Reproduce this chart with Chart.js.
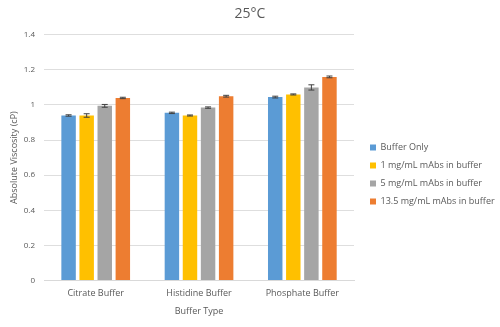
<!DOCTYPE html>
<html>
<head>
<meta charset="utf-8">
<script src="https://cdn.jsdelivr.net/npm/chart.js@4"></script>
<style>
  html, body { margin: 0; padding: 0; background: #fff; }
  #wrap { width: 500px; height: 327px; }
</style>
</head>
<body>
<div id="wrap"><canvas id="visc"></canvas></div>
<script>
// buffer types on the x axis
const buffers = ["Citrate Buffer", "Histidine Buffer", "Phosphate Buffer"];

// series names
const seriesNames = ["Buffer Only", "1 mg/mL mAbs in buffer", "5 mg/mL mAbs in buffer", "13.5 mg/mL mAbs in buffer"];

// absolute viscosity (cP), one array per series
const bufferOnly = [0.94, 0.955, 1.045];
const mAbs1 = [0.94, 0.94, 1.06];
const mAbs5 = [0.995, 0.985, 1.10];
const mAbs135 = [1.04, 1.05, 1.16];

// error bar half widths
const errBufferOnly = [0.004, 0.004, 0.005];
const errMAbs1 = [0.01, 0.003, 0.003];
const errMAbs5 = [0.008, 0.004, 0.015];
const errMAbs135 = [0.004, 0.005, 0.005];

const yTicks = [0, 0.2, 0.4, 0.6, 0.8, 1, 1.2, 1.4];

const colors = ["#5B9BD5", "#FFC000", "#A5A5A5", "#ED7D31"];
const values = [bufferOnly, mAbs1, mAbs5, mAbs135];
const errors = [errBufferOnly, errMAbs1, errMAbs5, errMAbs135];

const font = "'Open Sans', 'DejaVu Sans', sans-serif";
const textColor = "#595959";

// draws small error bars on top of every bar
const errorBars = {
   id: "errorBars",
   afterDatasetsDraw(chart) {
      const ctx = chart.ctx;
      const y = chart.scales.y;
      ctx.save();
      ctx.strokeStyle = "#404040";
      ctx.lineWidth = 1;
      chart.data.datasets.forEach((ds, i) => {
         const meta = chart.getDatasetMeta(i);
         meta.data.forEach((bar, j) => {
            const v = ds.data[j];
            const e = errors[i][j];
            const top = y.getPixelForValue(v + e);
            const bot = y.getPixelForValue(v - e);
            const x = bar.x;
            ctx.beginPath();
            ctx.moveTo(x, top); ctx.lineTo(x, bot);
            ctx.moveTo(x - 3, top); ctx.lineTo(x + 3, top);
            ctx.moveTo(x - 3, bot); ctx.lineTo(x + 3, bot);
            ctx.stroke();
         });
      });
      ctx.restore();
   }
};

// give the legend a fixed width and move it a bit right and down, like the original
const legendBox = {
   id: "legendBox",
   beforeLayout(chart) {
      const lg = chart.legend;
      if (!lg || lg._fixed) return;
      const fit = lg.fit.bind(lg);
      lg.fit = function () {
         fit();
         this.width = 146;
      };
      lg._fixed = true;
   },
   afterLayout(chart) {
      const lg = chart.legend;
      lg.left += 7;
      lg.right += 7;
      lg.top += 14;
      lg.bottom += 14;
   }
};

const chart = new Chart(document.getElementById("visc").getContext("2d"), {
   type: "bar",
   data: {
      labels: buffers,
      datasets: seriesNames.map((name, i) => ({
         label: name,
         data: values[i],
         backgroundColor: colors[i],
         borderWidth: 0,
         categoryPercentage: 0.7,
         barPercentage: 0.8
      }))
   },
   options: {
      responsive: true,
      maintainAspectRatio: false,
      animation: false,
      events: [],
      layout: { padding: { top: 4, right: 0, left: 0, bottom: 10 } },
      plugins: {
         title: {
            display: true,
            text: "25°C",
            color: textColor,
            font: { family: font, size: 14, weight: "normal" },
            padding: { top: 2, bottom: 12 }
         },
         legend: {
            position: "right",
            align: "center",
            labels: {
               boxWidth: 6,
               boxHeight: 6,
               padding: 9,
               color: textColor,
               font: { family: font, size: 9 }
            }
         },
         tooltip: { enabled: false }
      },
      scales: {
         x: {
            grid: { display: false },
            border: { color: "#d9d9d9" },
            ticks: { color: textColor, padding: 0, font: { family: font, size: 9 } },
            title: {
               display: true,
               text: "Buffer Type",
               color: textColor,
               padding: { top: 7, bottom: 0 },
               font: { family: font, size: 9 }
            }
         },
         y: {
            min: 0,
            max: 1.4,
            afterBuildTicks: axis => { axis.ticks = yTicks.map(v => ({ value: v })); },
            afterFit: axis => { axis.width -= 8; },
            grid: { color: "#dedede", drawTicks: false },
            border: { display: false },
            ticks: {
               color: textColor,
               padding: 9,
               font: { family: font, size: 8 },
               callback: v => String(+v.toFixed(1))
            },
            title: {
               display: true,
               text: "Absolute Viscosity (cP)",
               color: textColor,
               padding: { top: 9, bottom: 3 },
               font: { family: font, size: 9 }
            }
         }
      }
   },
   plugins: [errorBars, legendBox]
});
</script>
</body>
</html>
